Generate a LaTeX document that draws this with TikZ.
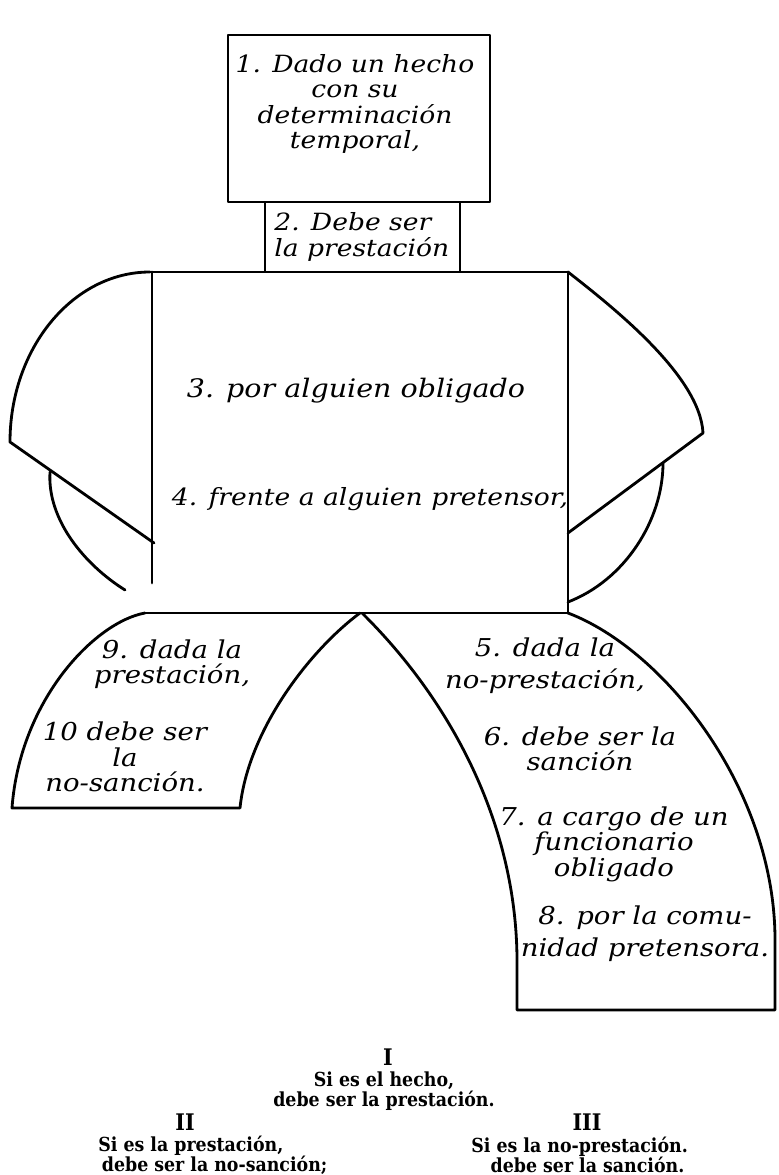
\documentclass[tikz,border=0pt]{standalone}
\usepackage{fontspec}
\usepackage{tikz}
\newfontfamily\handfont{DejaVu Serif}[FakeStretch=1.12]
\newfontfamily\printfont{DejaVu Serif Condensed}
\newcommand\tightlines{\lineskiplimit=-20pt\relax}

\begin{document}
\begin{tikzpicture}[x=0.02cm, y=0.02cm, line width=1.6pt, line join=round, line cap=round,
				   hand/.style={font={\handfont\itshape\fontsize{14}{14.5}\selectfont\tightlines}, align=center, inner sep=0pt},
				   small hand/.style={hand, font={\handfont\itshape\fontsize{13.5}{14.5}\selectfont\tightlines}},
				   big hand/.style={hand, font={\handfont\itshape\fontsize{14.5}{14.5}\selectfont}},
				   numeral/.style={font={\printfont\bfseries\fontsize{13}{13}\selectfont}, inner sep=0pt},
				   print/.style={font={\printfont\bfseries\fontsize{11}{11.4}\selectfont\tightlines}, inner sep=0pt}]
\useasboundingbox (0,0) rectangle (778,-1175);
\draw (228,-35) rectangle (490,-202);
\draw (265,-202) rectangle (460,-272);
\draw (150,-272) -- (568,-272);
\draw (152,-272) -- (152,-583);
\draw (568,-272) -- (568,-613);
\draw (145,-613) -- (568,-613);
\draw (150,-272) .. controls (73,-272) and (10,-348) .. (10,-442) -- (154,-543);
\draw (50,-472) .. controls (47,-520) and (85,-565) .. (125,-590);
\draw (568,-272) .. controls (610,-305) and (700,-375) .. (703,-433) -- (568,-533);
\draw (663,-463) .. controls (663,-520) and (625,-580) .. (568,-602);
\draw (145,-613) .. controls (95,-622) and (20,-700) .. (12,-808) -- (240,-808)
	.. controls (248,-730) and (310,-650) .. (360,-613);
\draw (362,-613) .. controls (455,-705) and (518,-830) .. (517,-965) -- (517,-1010)
	-- (775,-1010) -- (775,-940) .. controls (775,-790) and (665,-650) .. (568,-613);

\node[small hand] (hecho) at (355,-104) {1. Dado un hecho\\con su\\determinación\\temporal,};
\node[small hand, align=left, anchor=west] (debe) at (273,-237) {2. Debe ser\\la prestación};
\node[big hand, anchor=base] (obligado) at (356,-398) {3. por alguien obligado};
\node[small hand, anchor=base] (pretensor) at (370,-505) {4. frente a alguien pretensor,};
\node[hand] (dada) at (172,-664) {9. dada la\\prestación,};
\node[hand] (nosancion) at (125,-757) {10 debe ser\\la\\no-sanción.};
\node[hand] (noprest) at (545,-666) {5. dada la\\[3.5pt]no-prestación,};
\node[hand] (sancion) at (580,-749) {6. debe ser la\\sanción};
\node[hand] (funcionario) at (614,-844) {7. a cargo de un\\funcionario\\obligado};
\node[hand] (comunidad) at (645,-934) {8. por la comu-\\[3.5pt]nidad pretensora.};

\node[numeral] (uno) at (388,-1057) {I};
\node[print, align=center] (ley) at (384,-1091) {Si es el hecho,\\debe ser la prestación.};
\node[numeral] (dos) at (185,-1122) {II};
\node[print, align=left, anchor=west] (leydos) at (97,-1155) {Si es la prestación,\\\hspace*{2pt}debe ser la no-sanción;};
\node[numeral] (tres) at (587,-1122) {III};
\node[print, align=left, anchor=west] (leytres) at (470,-1155) {Si es la no-prestación.\\\hspace*{11pt}debe ser la sanción.};
\end{tikzpicture}
\end{document}
